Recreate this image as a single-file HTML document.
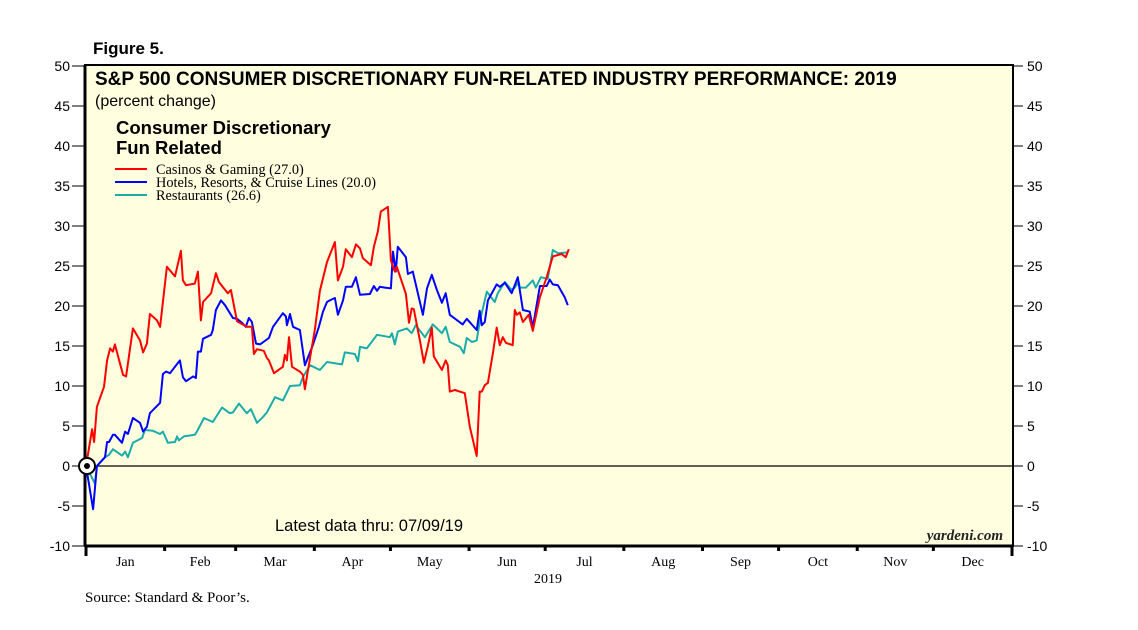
<!DOCTYPE html>
<html><head><meta charset="utf-8"><style>
body{margin:0;background:#fff;}
svg{display:block;}
.sans{font-family:"Liberation Sans",sans-serif;}
.serif{font-family:"Liberation Serif",serif;}
</style></head><body>
<svg id="chart" width="1138" height="630" xmlns="http://www.w3.org/2000/svg">
<rect x="85" y="65" width="928" height="481" fill="#ffffe0" stroke="#000" stroke-width="2"/>
<line x1="85" y1="65" x2="85" y2="546" stroke="#000" stroke-width="3"/>
<line x1="85" y1="546" x2="1013" y2="546" stroke="#000" stroke-width="3"/>
<text x="93" y="54" class="sans" font-size="17" font-weight="bold">Figure 5.</text>
<text x="95" y="85" class="sans" font-size="19" font-weight="bold">S&amp;P 500 CONSUMER DISCRETIONARY FUN-RELATED INDUSTRY PERFORMANCE: 2019</text>
<text x="95" y="106" class="sans" font-size="16">(percent change)</text>
<text x="116" y="134" class="sans" font-size="18.5" font-weight="bold"><tspan x="116">Consumer Discretionary</tspan><tspan x="116" dy="20">Fun Related</tspan></text>
<g>
<line x1="115" y1="169" x2="147" y2="169" stroke="#f00" stroke-width="2"/>
<text x="156" y="174" class="serif" font-size="14.3">Casinos &amp; Gaming (27.0)</text>
<line x1="115" y1="182" x2="147" y2="182" stroke="#00f" stroke-width="2"/>
<text x="156" y="187" class="serif" font-size="14.3">Hotels, Resorts, &amp; Cruise Lines (20.0)</text>
<line x1="115" y1="195" x2="147" y2="195" stroke="#1aacaa" stroke-width="2"/>
<text x="156" y="200" class="serif" font-size="14.3">Restaurants (26.6)</text>
</g>
<g id="axes"></g>
<g id="series"></g>
<text x="369" y="531" text-anchor="middle" class="sans" font-size="16.5">Latest data thru: 07/09/19</text>
<text x="1003" y="540" text-anchor="end" class="serif" font-size="15" font-style="italic" font-weight="bold" fill="#222">yardeni.com</text>
<text x="548" y="583" text-anchor="middle" class="serif" font-size="14">2019</text>
<text x="85" y="602" class="serif" font-size="15">Source: Standard &amp; Poor’s.</text>
</svg>
<script>
const yTicks = [50,45,40,35,30,25,20,15,10,5,0,-5,-10];
const months = ["Jan","Feb","Mar","Apr","May","Jun","Jul","Aug","Sep","Oct","Nov","Dec"];
const monthStarts = [0,31,59,90,120,151,181,212,243,273,304,334,365];
const casinos = [[0,0],[2.4,4.6],[3.2,3.0],[4.3,7.4],[7.1,9.9],[8.3,13.2],[9.5,14.7],[10.6,14.3],[11.4,15.2],[14.6,11.4],[15.8,11.2],[18.5,17.2],[21.3,15.7],[22.5,14.2],[24,15.3],[25.2,19.0],[28,18.2],[29.2,17.4],[31.9,24.9],[35.1,23.7],[37.4,26.9],[38.2,23.2],[39.4,22.6],[42.9,22.8],[44.1,24.3],[45.3,18.2],[46.1,20.5],[49.3,21.6],[51.2,24.1],[52.4,23.0],[55.9,21.6],[57.1,22.0],[59.5,18.1],[63.4,17.4],[65.4,17.4],[66.2,14.0],[67.4,14.6],[70.1,14.4],[71.3,13.5],[72.1,13.2],[74.1,11.6],[77.6,12.4],[78.4,13.9],[79.2,13.2],[80,16.1],[81.2,12.4],[84.3,11.8],[85.5,11.4],[86.3,9.6],[87.5,12.0],[90.2,17.0],[92.2,21.9],[95,25.5],[98.1,28.0],[99.3,23.2],[101.3,24.9],[102.4,27.1],[104.8,26.1],[106.4,27.7],[108,27.2],[109.1,26.0],[112.3,25.1],[113.5,27.4],[115,29.3],[116.2,31.8],[119,32.4],[120.2,25.7],[121.7,24.3],[122.5,24.9],[124.5,23.0],[126.1,21.5],[127.3,17.9],[128.4,19.7],[129.2,19.6],[131.6,15.7],[133.2,12.9],[134.7,14.9],[136.3,17.3],[137.1,13.7],[140.3,12.0],[141.8,13.2],[142.6,12.6],[143.4,9.3],[145.4,9.5],[149.3,9.1],[151.3,4.9],[154,1.25],[155.2,9.3],[156,9.3],[157.2,10.1],[158.4,10.4],[160.4,14.1],[161.9,17.3],[163.1,15.1],[164.3,16.1],[165.5,15.4],[168.2,15.1],[169,19.5],[169.8,18.9],[171,19.2],[172.2,18.0],[174.5,18.9],[176.1,16.9],[178.9,21.1],[181.6,23.6],[184,26.2],[187.5,26.5],[189.1,26.1],[190.3,27.1]];
const hotels = [[0,0],[2.8,-5.4],[4.3,0],[7.5,1.1],[8.3,3.0],[9.1,3.0],[10.6,3.9],[11.4,3.9],[14.2,2.9],[15.4,4.3],[16.5,4.0],[18.5,6.0],[21.3,5.4],[22.5,4.3],[24,4.9],[25.2,6.6],[29.2,7.9],[30.3,11.5],[31.5,11.8],[33.1,11.6],[37,13.2],[38.2,11.1],[39.4,10.6],[42.2,11.2],[43.3,11.0],[44.1,14.3],[45.3,14.3],[46.1,15.9],[49.3,16.4],[50,17.0],[51.2,19.5],[53.2,20.7],[54.8,20.1],[57.9,18.5],[59.5,18.4],[61.5,17.9],[63,17.4],[64.2,18.5],[65.4,18.0],[67,15.3],[68.6,15.2],[72.1,16.0],[73.7,17.4],[77.6,19.1],[78.8,18.7],[79.2,17.6],[80.4,19.0],[81.6,17.4],[84.3,17.0],[86.3,12.6],[89.4,15.1],[91.8,17.4],[93.4,19.3],[95,20.5],[96.1,20.7],[98.1,21.0],[99.3,18.9],[101.3,20.7],[102.4,22.4],[104.8,22.4],[106.4,23.6],[108,21.4],[111.9,21.5],[113.5,22.5],[114.7,21.9],[115.8,22.4],[117.8,22.3],[120.2,22.2],[121,26.8],[122.1,24.3],[122.9,27.4],[126.1,26.1],[126.9,24.0],[128.8,24.3],[132.8,18.9],[134.4,22.2],[136.3,23.9],[138.3,22.0],[140.3,20.4],[141.8,21.6],[143.4,18.9],[148.5,17.7],[150.1,18.4],[154,17.0],[155.2,19.4],[156,17.6],[157.2,18.0],[158.4,20.7],[161.9,22.7],[163.1,22.4],[165.1,22.9],[167.8,21.6],[170.2,23.6],[172.2,19.5],[174.9,19.3],[176.1,17.3],[178.9,22.5],[181.6,22.5],[182.8,23.3],[184,22.7],[186,22.6],[188.7,21.1],[189.9,20.1]];
const restaurants = [[0,0],[3.5,-2.2],[4.3,0],[7.5,1.1],[9.1,1.4],[10.6,2.1],[14.2,1.3],[15.4,1.8],[16.5,1.1],[18.5,2.9],[22.1,3.5],[23.2,4.5],[26.4,4.4],[29.2,4.0],[30.3,4.3],[32.3,2.9],[35.1,3.0],[35.9,3.7],[36.6,3.2],[38.6,3.7],[42.9,3.9],[43.7,4.3],[46.5,6.0],[50,5.5],[53.6,7.3],[56.7,6.6],[57.9,6.7],[60.3,7.8],[63.4,6.6],[65,7.1],[67.4,5.4],[69.7,6.1],[71.3,6.7],[74.5,8.6],[77.6,8.2],[80.4,10.0],[84.3,10.1],[85.5,11.1],[88.3,12.6],[92.2,12.0],[95,13.0],[100.9,12.7],[102,14.2],[106,14.0],[107.2,13.1],[108,14.9],[110.7,14.7],[114.7,16.4],[119.8,16.1],[120.6,16.6],[121.7,15.2],[122.9,16.8],[126.5,17.2],[128.4,16.6],[130,17.6],[133.6,16.1],[136.7,17.7],[140.3,16.6],[141.8,17.4],[143.4,15.5],[147.4,14.9],[148.9,14.1],[150.1,16.0],[152.1,15.5],[154,15.7],[155.2,18.0],[158,21.8],[161.1,20.5],[162.3,21.6],[165.1,23.0],[167.8,22.0],[169,22.3],[170.6,23.0],[171,22.3],[173.4,22.3],[176.1,23.2],[177.3,22.3],[179.3,23.6],[182,23.4],[184,27.0],[186,26.6],[189.9,26.7]];

const NS="http://www.w3.org/2000/svg";
const X0=86, X1=1012, Y0=466, YPER=8.0;
function xS(d){return X0+(X1-X0)*d/365;}
function yS(v){return Y0-v*YPER;}
const axes=document.getElementById('axes');
function mk(tag,attrs,parent){const e=document.createElementNS(NS,tag);for(const k in attrs)e.setAttribute(k,attrs[k]);parent.appendChild(e);return e;}
yTicks.forEach(v=>{
  const y=yS(v);
  mk('line',{x1:72,y1:y,x2:84,y2:y,stroke:'#000','stroke-width':1},axes);
  mk('line',{x1:1013,y1:y,x2:1023,y2:y,stroke:'#000','stroke-width':1},axes);
  const tl=mk('text',{x:70,y:y+5,'text-anchor':'end','font-size':14,'font-family':'Liberation Sans, sans-serif'},axes);
  tl.textContent=v;
  
  
  const tr=mk('text',{x:1027,y:y+5,'font-size':14,'font-family':'Liberation Sans, sans-serif'},axes);
  tr.textContent=v;
  
  
});
const zl=mk('line',{x1:85,y1:yS(0),x2:1013,y2:yS(0),stroke:'#000','stroke-width':1.2},axes);


monthStarts.forEach((d,i)=>{
  const x=xS(d);
  mk('line',{x1:x,y1:546,x2:x,y2:(i===0||i===12)?556:551,stroke:'#000','stroke-width':3},axes);
  if(i<12){
    const t=mk('text',{x:(xS(d)+xS(monthStarts[i+1]))/2,y:566,'text-anchor':'middle','font-size':14,'font-family':'Liberation Serif, serif'},axes);
    t.textContent=months[i];
    
    
  }
});
const sg=document.getElementById('series');
function line(data,color,name){
  const p=mk('polyline',{points:data.map(p=>xS(p[0]).toFixed(1)+','+yS(p[1]).toFixed(1)).join(' '),fill:'none',stroke:color,'stroke-width':2,'stroke-linejoin':'round'},sg);
  
  
}
line(restaurants,'#1aacaa','restaurants-line');
line(hotels,'#0000ff','hotels-line');
line(casinos,'#ff0000','casinos-line');
const c1=mk('circle',{cx:87,cy:yS(0),r:8,fill:'#fff',stroke:'#000','stroke-width':2},sg);


mk('circle',{cx:87,cy:yS(0),r:3,fill:'#000'},sg);
</script>
</body></html>
